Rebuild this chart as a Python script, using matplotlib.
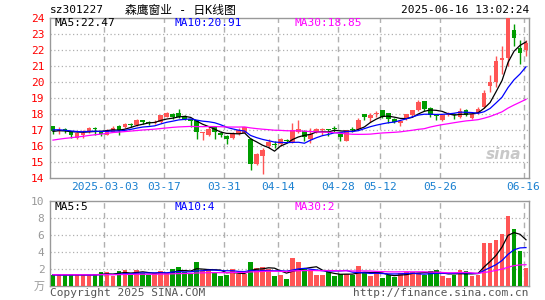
import numpy as np
import matplotlib
matplotlib.use("Agg")
import matplotlib.pyplot as plt

plt.rcParams['font.family'] = ['DejaVu Sans Mono', 'Noto Sans CJK SC']

code = "sz301227"
title = "森鹰窗业 - 日K线图"
stamp = "2025-06-16 13:02:24"

date_idx = [9, 19, 29, 38, 48, 55, 65, 79]
date_txt = ["2025-03-03", "03-17", "03-31", "04-14", "04-28", "05-12", "05-26", "06-16"]

# daily candles, 2025-02-18 .. 2025-06-16
opens = [17.23, 16.92, 17.08, 16.92, 16.52, 16.67, 16.88, 17.10, 16.88, 16.71,
         16.88, 17.25, 17.15, 17.32, 17.29, 17.60, 17.47, 17.42, 17.48, 17.83,
         17.98, 18.06, 17.85, 17.62, 17.60, 16.78, 16.67, 17.15, 16.81, 16.62,
         16.50, 16.77, 16.83, 16.46, 14.88, 15.35, 15.98, 16.08, 16.12, 16.35,
         16.25, 16.85, 16.92, 16.44, 16.85, 16.98, 17.05, 17.10, 16.75, 16.33,
         17.02, 17.06, 17.96, 17.75, 17.98, 18.21, 18.04, 17.69, 17.44, 17.69,
         17.92, 18.25, 18.78, 18.35, 17.90, 17.60, 17.93, 17.95, 17.80, 18.25,
         17.73, 18.04, 18.42, 19.75, 20.00, 21.35, 21.50, 23.25, 22.10, 21.95]
highs = [17.25, 17.20, 17.12, 16.95, 16.85, 17.00, 17.15, 17.15, 16.95, 17.05,
         17.25, 17.30, 17.40, 17.40, 17.70, 17.62, 17.55, 17.60, 17.95, 18.10,
         18.05, 18.33, 17.90, 17.70, 17.62, 16.85, 17.25, 17.20, 16.90, 16.70,
         16.85, 17.10, 17.20, 16.50, 15.55, 15.85, 16.40, 16.30, 16.50, 16.45,
         17.40, 17.60, 17.00, 17.10, 17.10, 17.10, 17.08, 17.25, 16.80, 17.00,
         17.15, 17.75, 18.00, 18.05, 18.20, 18.22, 18.08, 17.72, 17.60, 18.00,
         18.25, 18.85, 18.80, 18.40, 18.00, 17.95, 18.10, 18.05, 18.35, 18.30,
         18.05, 18.40, 19.50, 20.40, 21.60, 22.20, 24.00, 23.60, 22.60, 22.60]
lows = [16.73, 16.73, 16.80, 16.50, 16.45, 16.50, 16.80, 16.70, 16.60, 16.65,
        16.85, 16.67, 17.10, 17.15, 17.25, 17.35, 17.30, 17.35, 17.45, 17.80,
        17.70, 17.75, 17.60, 17.20, 16.46, 16.35, 16.60, 16.40, 16.55, 16.10,
        16.45, 16.70, 16.80, 14.50, 14.80, 14.25, 15.90, 15.85, 16.00, 16.15,
        16.20, 16.80, 16.30, 16.20, 16.80, 16.70, 16.60, 16.85, 16.30, 16.30,
        16.85, 17.00, 17.60, 17.50, 17.80, 17.75, 17.40, 17.40, 17.25, 17.60,
        17.85, 18.20, 18.20, 17.80, 17.60, 17.55, 17.85, 17.65, 17.75, 17.85,
        17.70, 18.00, 18.35, 19.35, 19.70, 20.50, 21.00, 22.20, 21.10, 21.60]
closes = [16.92, 17.02, 16.92, 16.67, 16.81, 16.83, 17.13, 17.05, 16.73, 17.00,
          17.10, 17.02, 17.35, 17.28, 17.60, 17.50, 17.43, 17.50, 17.90, 18.04,
          17.78, 17.81, 17.67, 17.58, 16.87, 16.82, 17.08, 16.87, 16.67, 16.46,
          16.77, 16.98, 17.15, 14.85, 15.50, 15.73, 16.25, 16.03, 16.44, 16.30,
          16.96, 17.06, 16.54, 16.73, 17.06, 17.02, 17.00, 17.05, 16.54, 16.96,
          17.00, 17.60, 17.79, 17.94, 18.02, 17.83, 17.69, 17.48, 17.54, 17.96,
          18.22, 18.73, 18.32, 17.95, 17.86, 17.90, 17.97, 17.90, 18.20, 17.92,
          18.00, 18.31, 19.27, 20.00, 21.30, 21.50, 23.95, 22.75, 21.80, 22.40]
# volume, 万手
volume = [1.28, 1.28, 1.25, 1.25, 1.28, 1.20, 1.20, 1.40, 1.55, 1.55,
          1.08, 1.68, 1.88, 1.20, 1.88, 1.48, 1.20, 1.48, 1.68, 1.48,
          2.00, 2.16, 1.56, 1.40, 2.85, 1.76, 1.88, 1.48, 1.16, 1.28,
          2.00, 1.36, 1.36, 2.85, 2.10, 2.20, 2.00, 1.14, 1.25, 0.78,
          3.25, 2.82, 1.96, 1.84, 1.25, 1.25, 1.65, 1.18, 1.33, 1.33,
          1.25, 2.30, 1.65, 1.14, 1.45, 0.94, 1.25, 1.06, 1.53, 1.65,
          1.65, 1.53, 1.25, 1.73, 1.84, 1.14, 0.94, 1.25, 1.84, 1.73,
          1.14, 1.25, 5.06, 5.06, 5.37, 6.10, 8.20, 6.67, 4.08, 2.10]

# sessions before the visible window (only feed the moving averages)
prior_close = [15.3, 15.4, 15.5, 15.4, 15.6, 15.5, 15.7, 15.6, 15.5, 15.6,
               16.2, 16.4, 16.3, 16.6, 16.5, 16.7, 16.6, 16.8, 16.9, 16.7,
               17.0, 17.2, 17.1, 17.2, 17.0, 16.8, 17.0, 16.9, 16.9]
prior_vol = [1.5, 1.2, 1.4, 1.1, 1.3, 1.6, 1.2, 1.0, 1.3, 1.4,
             1.5, 1.2, 1.1, 1.3, 1.4, 1.2, 1.5, 1.3, 1.1, 1.2,
             1.4, 1.3, 1.2, 1.1, 1.3, 1.4, 1.2, 1.3, 1.2]

ma_price_txt = ["MA5:22.47", "MA10:20.91", "MA30:18.85"]
ma_vol_txt = ["MA5:5", "MA10:4", "MA30:2"]
ma_colors = ["black", "#0000ff", "#ff00ff"]
ma_windows = [5, 10, 30]

RED = "#ff5555"
GREEN = "#009c00"
GRID = "#b0b0b0"


def moving_avg(prior, vals, n):
    full = np.array(prior + vals, dtype=float)
    out = np.convolve(full, np.ones(n) / n, mode="valid")
    return out[-len(vals):]


o = np.array(opens)
h = np.array(highs)
l = np.array(lows)
c = np.array(closes)
v = np.array(volume)
x = np.arange(len(c))
up = c >= o
col = np.where(up, RED, GREEN)

fig = plt.figure(figsize=(5.45, 3.0), dpi=100)
ax = fig.add_axes([50 / 545, 1 - 178 / 300, 479 / 545, 160.5 / 300])
axv = fig.add_axes([50 / 545, 1 - 285.5 / 300, 479 / 545, 84.2 / 300])

for a in (ax, axv):
    a.set_xlim(-0.5, len(c) - 0.5)
    for s in a.spines.values():
        s.set_color("#999999")
        s.set_linewidth(1)
    a.tick_params(length=0)
    for d in date_idx:
        a.axvline(d - 0.4, color=GRID, lw=1, ls=(0, (4, 3)), zorder=0)

# price panel
ax.set_ylim(14, 24)
for yv in range(15, 24):
    ax.axhline(yv, color=GRID, lw=0.9, ls=(0, (1, 2)), zorder=0)
ax.vlines(x, l, h, colors=col, lw=1, zorder=2)
body = np.maximum(np.abs(c - o), 0.07)
ax.bar(x, body, bottom=np.minimum(o, c), width=0.78, color=col, lw=0, zorder=3)
for n, colr in zip(ma_windows, ma_colors):
    ax.plot(x, moving_avg(prior_close, closes, n), color=colr, lw=0.9, zorder=4)
ax.set_yticks(range(14, 25))
ax.set_yticklabels([str(t) for t in range(14, 25)], color="red", fontsize=8)
ax.set_xticks([d - 0.4 for d in date_idx])
ax.set_xticklabels(date_txt, color="#1a80d0", fontsize=8)
ax.tick_params(axis="x", pad=3)
ax.tick_params(axis="y", pad=4)
for txt, colr, xp in zip(ma_price_txt, ma_colors, [0.01, 0.26, 0.51]):
    ax.text(xp, 0.995, txt, transform=ax.transAxes, color=colr, fontsize=8,
            va="top", ha="left")
ax.text(0.985, 0.1, "sina", transform=ax.transAxes, color="#c8c8c8",
        fontsize=11, fontweight="bold", style="italic", ha="right", va="bottom",
        family="DejaVu Sans", zorder=1)

# volume panel
axv.set_ylim(0, 10)
for yv in (2, 4, 6, 8):
    axv.axhline(yv, color=GRID, lw=0.9, ls=(0, (1, 2)), zorder=0)
axv.bar(x, v, width=0.78, color=col, lw=0, zorder=3)
for n, colr in zip(ma_windows, ma_colors):
    axv.plot(x, moving_avg(prior_vol, volume, n), color=colr, lw=0.9, zorder=4)
axv.set_yticks([0, 2, 4, 6, 8, 10])
axv.set_yticklabels(["万", "2", "4", "6", "8", "10"], color="#999999", fontsize=8)
axv.tick_params(axis="y", pad=4)
axv.set_xticks([])
for txt, colr, xp in zip(ma_vol_txt, ma_colors, [0.01, 0.26, 0.51]):
    axv.text(xp, 0.99, txt, transform=axv.transAxes, color=colr, fontsize=8,
             va="top", ha="left")

# header and footer
fig.text(50 / 545, 1 - 10 / 300, code, fontsize=8, va="center", ha="left")
fig.text(180 / 545, 1 - 10 / 300, title, fontsize=8.5, va="center", ha="center")
fig.text(529 / 545, 1 - 10 / 300, stamp, fontsize=8, va="center", ha="right")
fig.text(50 / 545, 1 - 293 / 300, "Copyright 2025 SINA.COM", fontsize=8,
         color="#555555", va="center", ha="left")
fig.text(529 / 545, 1 - 293 / 300, "http://finance.sina.com.cn", fontsize=8,
         color="#555555", va="center", ha="right")

fig.savefig("out.png", dpi=100)
